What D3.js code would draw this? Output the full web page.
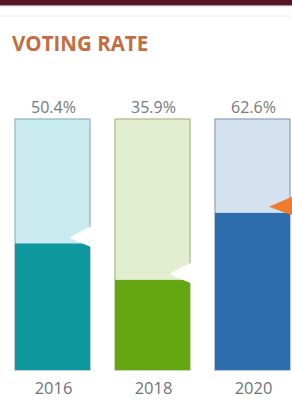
<!DOCTYPE html>
<html><head><meta charset="utf-8">
<script src="https://cdn.jsdelivr.net/npm/d3@7"></script>
<style>html,body{margin:0;padding:0;background:#fff;}svg{display:block;}</style>
</head><body>
<script>
const categories = ["2016", "2018", "2020"];
const values = [50.4, 35.9, 62.6];
const valueLabels = ["50.4%", "35.9%", "62.6%"];
const fillColors = ["#0f97a0", "#64a612", "#2e6dad"];
const lightColors = ["#c9eaee", "#e3edcf", "#d4e1ef"];
const borderColors = ["#8fb3b8", "#a4bd7c", "#8aa0b9"];
const markerColors = ["#ffffff", "#ffffff", "#f07b2a"];

const W = 292, H = 406;
const svg = d3.select("body").append("svg").attr("width", W).attr("height", H);

// header band
svg.append("rect").attr("x", 0).attr("y", 0).attr("width", W).attr("height", 5).attr("fill", "#5a1322");
svg.append("rect").attr("x", 0).attr("y", 5).attr("width", W).attr("height", 1.2).attr("fill", "#9a9a9a");
svg.append("rect").attr("x", 0).attr("y", 15.5).attr("width", W).attr("height", 1).attr("fill", "#ececec");

svg.append("text").attr("x", 12).attr("y", 51)
  .attr("font-family", "Open Sans").attr("font-weight", 700).attr("font-size", 20.5)
  .attr("fill", "#c46c42").text("VOTING RATE");

const x = d3.scaleBand().domain(categories).range([15, 290]).paddingInner(0.25).paddingOuter(0);
const y = d3.scaleLinear().domain([0, 100]).range([370, 119]);

const data = categories.map((c, i) => ({c, v: values[i], label: valueLabels[i], i}));

const g = svg.append("g");
g.selectAll("rect.bg").data(data).join("rect").attr("class", "bg")
  .attr("x", d => x(d.c)).attr("y", y(100)).attr("width", x.bandwidth()).attr("height", y(0) - y(100))
  .attr("fill", d => lightColors[d.i]).attr("stroke", d => borderColors[d.i]).attr("stroke-width", 1.2);

g.selectAll("rect.fill").data(data).join("rect").attr("class", "fill")
  .attr("x", d => x(d.c)).attr("y", d => y(d.v)).attr("width", x.bandwidth()).attr("height", d => y(0) - y(d.v))
  .attr("fill", d => fillColors[d.i]);

g.selectAll("path.marker").data(data).join("path").attr("class", "marker")
  .attr("d", d => {
    const r = x(d.c) + x.bandwidth();
    const yv = y(d.v);
    const tip = d.i < 2 ? 18 : 21;
    return `M${r - tip},${yv - 6} L${r + 4},${yv - 17} L${r + 4},${yv + 3} Z`;
  })
  .attr("fill", d => markerColors[d.i])
  .attr("stroke", d => d.i < 2 ? "#ffffff" : "none")
  .attr("stroke-width", 3).attr("stroke-linejoin", "round");

g.selectAll("text.val").data(data).join("text").attr("class", "val")
  .attr("x", d => x(d.c) + x.bandwidth() / 2 + 1).attr("y", 113)
  .attr("text-anchor", "middle").attr("font-family", "Open Sans").attr("font-size", 16)
  .attr("fill", "#737a80").text(d => d.label);

g.selectAll("text.cat").data(data).join("text").attr("class", "cat")
  .attr("x", d => x(d.c) + x.bandwidth() / 2 + 1).attr("y", 394)
  .attr("text-anchor", "middle").attr("font-family", "Open Sans").attr("font-size", 16.5)
  .attr("fill", "#6f7379").text(d => d.c);
</script>
</body></html>
